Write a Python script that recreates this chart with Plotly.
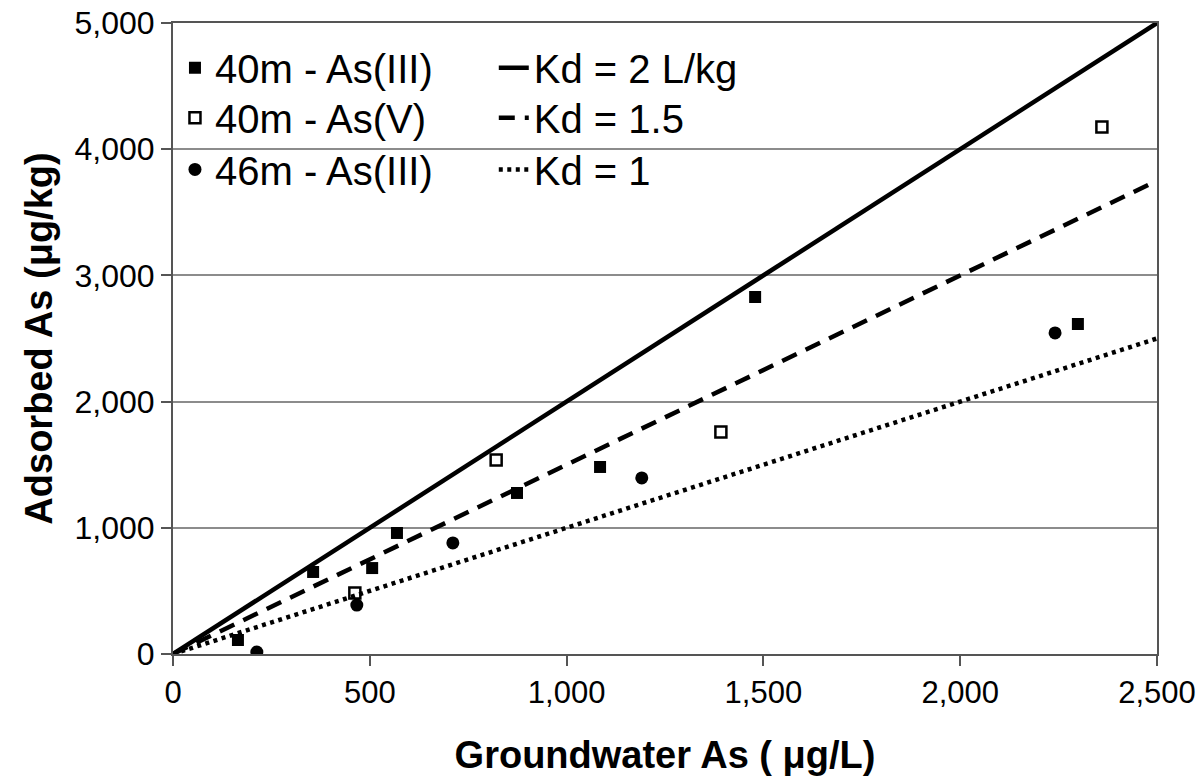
import plotly.graph_objects as go

# Data
as3_40_x = [165, 356, 506, 569, 874, 1085, 1479, 2299]
as3_40_y = [111, 650, 681, 959, 1276, 1482, 2829, 2615]
as5_40_x = [462, 821, 1392, 2360]
as5_40_y = [483, 1537, 1759, 4176]
as3_46_x = [213, 467, 711, 1191, 2241]
as3_46_y = [16, 388, 880, 1395, 2544]

kd_values = [2, 1.5, 1]
kd_names = ["Kd = 2 L/kg", "Kd = 1.5", "Kd = 1"]
kd_dash = ["solid", "16px,10px", "4px,4.5px"]
line_x = [0, 2500]

x_ticks = [0, 500, 1000, 1500, 2000, 2500]
y_ticks = [0, 1000, 2000, 3000, 4000, 5000]

FONT = "Liberation Sans, Arial, sans-serif"

fig = go.Figure()

for i, (kd, nm, ds) in enumerate(zip(kd_values, kd_names, kd_dash)):
    fig.add_trace(go.Scatter(x=line_x, y=[kd * v for v in line_x], mode="lines", name=nm,
                             line=dict(color="black", width=4.5, dash=ds),
                             legend="legend%d" % (4 + i)))

fig.add_trace(go.Scatter(x=as3_40_x, y=as3_40_y, mode="markers", name="40m - As(III)",
                         marker=dict(symbol="square", size=12, color="black"), legend="legend"))
fig.add_trace(go.Scatter(x=as5_40_x, y=as5_40_y, mode="markers", name="40m - As(V)",
                         marker=dict(symbol="square-open", size=11, color="black",
                                     line=dict(width=2.5, color="black")), legend="legend2"))
fig.add_trace(go.Scatter(x=as3_46_x, y=as3_46_y, mode="markers", name="46m - As(III)",
                         marker=dict(symbol="circle", size=13, color="black"), legend="legend3"))

row_y = [0.929, 0.850, 0.768]
leg_common = dict(xanchor="left", yanchor="middle", bgcolor="rgba(0,0,0,0)",
                  font=dict(size=40, family=FONT), borderwidth=0)
legends = {}
for i in range(3):
    legends["legend" if i == 0 else "legend%d" % (i + 1)] = dict(x=0.002, y=row_y[i], **leg_common)
    legends["legend%d" % (i + 4)] = dict(x=0.326, y=row_y[i], **leg_common)

fig.update_layout(
    width=1204, height=784,
    margin=dict(l=173, r=47, t=23, b=130),
    plot_bgcolor="white", paper_bgcolor="white",
    font=dict(family=FONT, color="black", size=30),
    xaxis=dict(range=[0, 2500], tickvals=x_ticks, tickformat=",d", automargin=False,
               showgrid=False, zeroline=False,
               showline=True, linecolor="#555", linewidth=2, mirror=True,
               ticks="outside", ticklen=10, tickwidth=2, tickcolor="#555",
               tickfont=dict(size=31, family=FONT),
               title=dict(text="<b>Groundwater As ( μg/L)</b>", font=dict(size=38, family=FONT),
                          standoff=32)),
    yaxis=dict(range=[0, 5000], tickvals=y_ticks, tickformat=",d", automargin=False,
               showgrid=True, gridcolor="#8c8c8c", gridwidth=2, zeroline=False,
               showline=True, linecolor="#555", linewidth=2, mirror=True,
               ticks="outside", ticklen=10, tickwidth=2, tickcolor="#555",
               tickfont=dict(size=32, family=FONT),
               title=dict(text="<b>Adsorbed As (μg/kg)</b>", font=dict(size=38, family=FONT),
                          standoff=10)),
    showlegend=True,
    **legends,
)

fig.write_html("out.html")
